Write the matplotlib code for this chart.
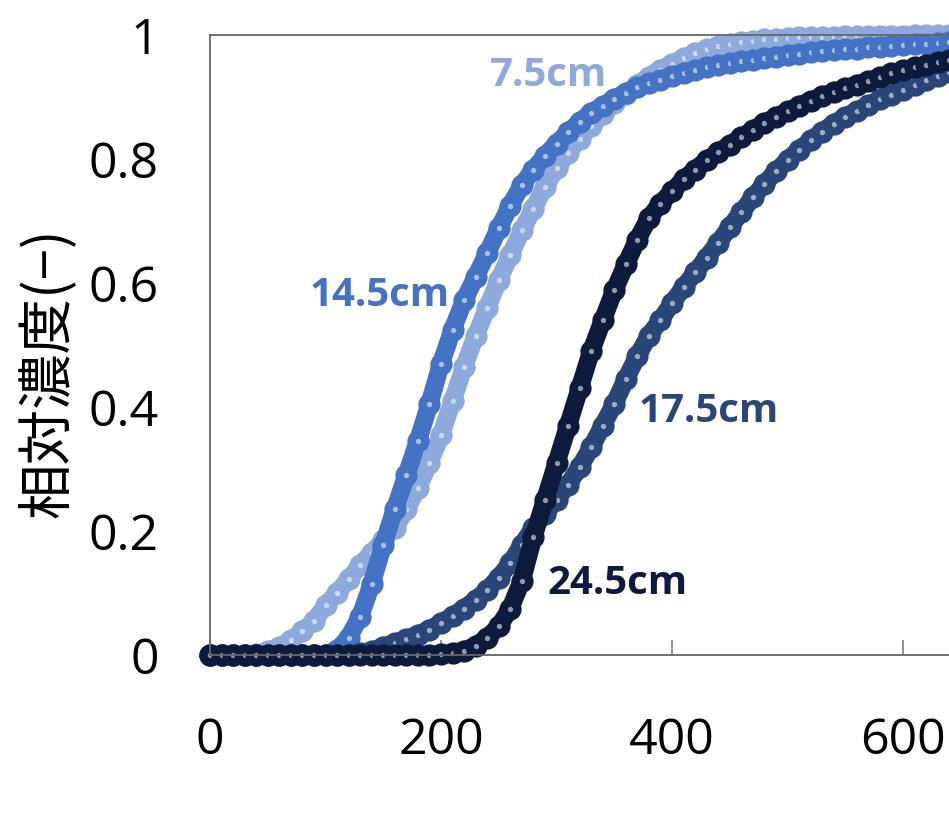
import matplotlib.pyplot as plt
from matplotlib.colors import to_rgb

# time (s)
t = [0, 10, 20, 30, 40, 50, 60, 70, 80, 90, 100, 110, 120, 130, 140, 150, 160,
     170, 180, 190, 200, 210, 220, 230, 240, 250, 260, 270, 280, 290, 300, 310,
     320, 330, 340, 350, 360, 370, 380, 390, 400, 410, 420, 430, 440, 450, 460,
     470, 480, 490, 500, 510, 520, 530, 540, 550, 560, 570, 580, 590, 600, 610,
     620, 630, 640, 650]

c_75 = [0, 0, 0, 0, 0.002, 0.006, 0.013, 0.024, 0.038, 0.055, 0.08, 0.1,
        0.122, 0.145, 0.165, 0.185, 0.205, 0.235, 0.27, 0.31, 0.355, 0.41,
        0.465, 0.515, 0.56, 0.605, 0.645, 0.685, 0.72, 0.755, 0.785, 0.81,
        0.833, 0.853, 0.872, 0.89, 0.905, 0.92, 0.933, 0.944, 0.954, 0.963,
        0.971, 0.977, 0.982, 0.986, 0.989, 0.991, 0.993, 0.994, 0.995, 0.996,
        0.996, 0.997, 0.997, 0.998, 0.998, 0.998, 0.999, 0.999, 0.999, 1.0,
        1.0, 1.0, 1.0, 1.0]

c_145 = [0, 0, 0, 0, 0, 0, 0, 0, 0, 0, 0, 0.008, 0.028, 0.062, 0.115, 0.178,
         0.235, 0.29, 0.345, 0.405, 0.47, 0.525, 0.572, 0.61, 0.648, 0.688,
         0.725, 0.758, 0.783, 0.805, 0.825, 0.843, 0.86, 0.875, 0.886, 0.897,
         0.907, 0.916, 0.922, 0.928, 0.934, 0.939, 0.944, 0.948, 0.951, 0.955,
         0.958, 0.96, 0.963, 0.965, 0.968, 0.97, 0.972, 0.974, 0.976, 0.977,
         0.978, 0.98, 0.981, 0.982, 0.984, 0.985, 0.986, 0.987, 0.988, 0.989]

c_175 = [0, 0, 0, 0, 0, 0, 0, 0, 0, 0, 0, 0, 0, 0.003, 0.007, 0.013, 0.02,
         0.026, 0.033, 0.041, 0.052, 0.063, 0.075, 0.089, 0.105, 0.125, 0.148,
         0.178, 0.205, 0.228, 0.25, 0.275, 0.303, 0.335, 0.37, 0.405, 0.445,
         0.482, 0.515, 0.54, 0.568, 0.593, 0.617, 0.641, 0.665, 0.69, 0.714,
         0.738, 0.76, 0.78, 0.798, 0.815, 0.83, 0.844, 0.857, 0.868, 0.878,
         0.887, 0.896, 0.904, 0.912, 0.92, 0.927, 0.934, 0.94, 0.945]

c_245 = [0, 0, 0, 0, 0, 0, 0, 0, 0, 0, 0, 0, 0, 0, 0, 0, 0, 0, 0, 0, 0.001,
         0.003, 0.007, 0.015, 0.028, 0.046, 0.075, 0.12, 0.19, 0.25, 0.31, 0.37,
         0.43, 0.49, 0.54, 0.588, 0.63, 0.67, 0.705, 0.728, 0.748, 0.767, 0.783,
         0.798, 0.811, 0.823, 0.835, 0.847, 0.858, 0.868, 0.877, 0.886, 0.894,
         0.901, 0.908, 0.914, 0.92, 0.926, 0.932, 0.938, 0.943, 0.948, 0.952,
         0.956, 0.96, 0.963]

series = [c_75, c_145, c_175, c_245]
names = ["7.5cm", "14.5cm", "17.5cm", "24.5cm"]
colors = ["#8EA9DB", "#4472C4", "#2A4577", "#0C1A3B"]
label_xy = [(293, 0.935), (147, 0.58), (432, 0.392), (353, 0.116)]


def tint(c, k):
    r, g, b = to_rgb(c)
    return (r + (1 - r) * k, g + (1 - g) * k, b + (1 - b) * k)


fig = plt.figure(figsize=(9.49, 8.19), dpi=100)
ax = fig.add_axes([210 / 949, 164 / 819, 924 / 949, 620 / 819])

for y, c in zip(series, colors):
    ax.plot(t, y, color=c, lw=13, marker="o", ms=10, mew=6, mec=c,
            mfc=tint(c, 0.55), solid_capstyle="round", clip_on=False)

for name, c, (lx, ly) in zip(names, colors, label_xy):
    ax.text(lx, ly, name, color=c, fontsize=29, fontweight="bold",
            family="Open Sans", ha="center", va="center")

ax.set_xlim(0, 800)
ax.set_ylim(0, 1)
ax.set_xticks([0, 200, 400, 600])
ax.set_yticks([0, 0.2, 0.4, 0.6, 0.8, 1.0])
ax.set_yticklabels(["0", "0.2", "0.4", "0.6", "0.8", "1"])
ax.tick_params(axis="x", direction="in", length=11, width=1.2, color="#7f7f7f",
               pad=44, labelsize=36)
ax.tick_params(axis="y", length=0, pad=37, labelsize=36)
for lab in ax.get_xticklabels() + ax.get_yticklabels():
    lab.set_family("Open Sans")

for s in ax.spines.values():
    s.set_color("#666666")
    s.set_linewidth(1.3)

ax.set_ylabel("相対濃度(−)", fontsize=40, family=["Noto Sans CJK JP", "DejaVu Sans"])
ax.yaxis.set_label_coords(-0.144, 0.456)

fig.savefig("out.png", dpi=100)
